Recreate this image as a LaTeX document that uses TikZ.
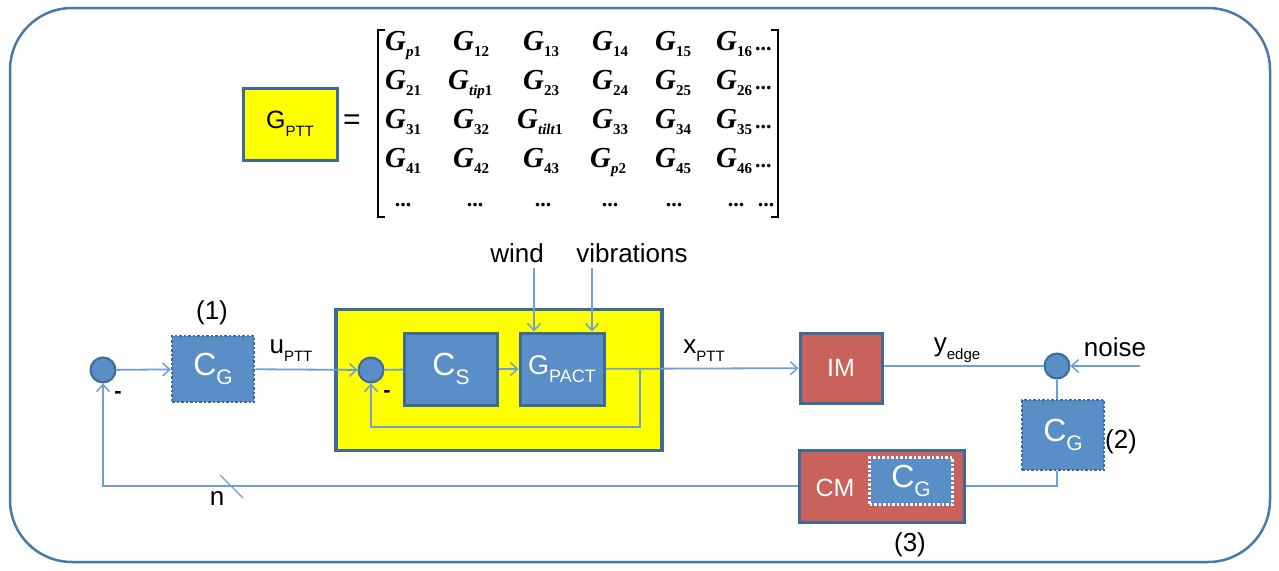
\documentclass[tikz,border=0pt]{standalone}
\usepackage{fontspec}
\setmainfont{Liberation Sans}
\newfontfamily\tnr{Liberation Serif}
\usetikzlibrary{arrows.meta,calc}
\definecolor{lineblue}{HTML}{6F9FD6}
\definecolor{boxblue}{HTML}{5A8EC6}
\definecolor{edgeblue}{HTML}{3E6A9A}
\definecolor{boxred}{HTML}{C8625A}
\definecolor{outerblue}{HTML}{4C78A8}
\definecolor{yel}{HTML}{FFFF00}
\newcommand\lsub[2]{\raisebox{-0.3em}{\fontsize{#1}{#1}\selectfont #2}}
\newcommand\MG[1]{{\tnr\bfseries\itshape G}\raisebox{-6pt}{\tnr\bfseries\upshape\fontsize{15}{15}\selectfont #1}}
\newcommand\mdots{{\tnr\bfseries\upshape\fontsize{22}{22}\selectfont ...}}
\tikzset{
  conn/.style={draw=lineblue, line width=1.8pt},
  arr/.style={-{Straight Barb[length=7pt,width=13pt,line width=1.5pt]}},
  bluebox/.style={rectangle, fill=boxblue, draw=edgeblue, line width=3pt, text=white, inner sep=0pt},
  dotbox/.style={rectangle, fill=boxblue, draw=edgeblue, line width=2.5pt, dash pattern=on 2.5pt off 2pt, text=white, inner sep=0pt},
  redbox/.style={rectangle, fill=boxred, draw=edgeblue, line width=3pt, text=white, inner sep=0pt},
  sumc/.style={circle, fill=boxblue, draw=edgeblue, line width=2pt, minimum size=25pt, inner sep=0pt},
  lbl/.style={font=\fontsize{26}{28}\selectfont, inner sep=0pt},
  mentry/.style={anchor=base west, inner sep=0pt, font=\tnr\bfseries\itshape\fontsize{29}{29}\selectfont},
  mdot/.style={anchor=base, inner sep=0pt},
}
\begin{document}
\begin{tikzpicture}[x=1pt,y=-1pt]
\useasboundingbox (0,0) rectangle (1279,570);
\draw[outerblue, line width=2.5pt, rounded corners=62pt] (10,8) rectangle (1270,562);

% G_PTT = matrix
\node[rectangle, fill=yel, draw=edgeblue, line width=3pt, minimum width=94pt, minimum height=72pt, inner sep=0pt] (gptt) at (290,124)
  {\fontsize{25}{25}\selectfont G\lsub{15}{PTT}};
\node[lbl, font=\fontsize{30}{30}\selectfont] (eq) at (352,122) {=};
\draw[black, line width=1.8pt] (385,30) -- (378,30) -- (378,217) -- (385,217);
\draw[black, line width=1.8pt] (771,30) -- (778,30) -- (778,217) -- (771,217);
% row 1
\node[mentry] (m11) at (385,50) {\MG{\textit{p}1}};
\node[mentry] (m12) at (453,50) {\MG{12}};
\node[mentry] (m13) at (523,50) {\MG{13}};
\node[mentry] (m14) at (592,50) {\MG{14}};
\node[mentry] (m15) at (655,50) {\MG{15}};
\node[mentry] (m16) at (716,50) {\MG{16}};
\node[mentry] (m17) at (755,50) {\mdots};
% row 2
\node[mentry] (m21) at (385,89) {\MG{21}};
\node[mentry] (m22) at (448,89) {\MG{\textit{tip}1}};
\node[mentry] (m23) at (523,89) {\MG{23}};
\node[mentry] (m24) at (592,89) {\MG{24}};
\node[mentry] (m25) at (655,89) {\MG{25}};
\node[mentry] (m26) at (716,89) {\MG{26}};
\node[mentry] (m27) at (755,89) {\mdots};
% row 3
\node[mentry] (m31) at (385,128) {\MG{31}};
\node[mentry] (m32) at (453,128) {\MG{32}};
\node[mentry] (m33) at (517,128) {\MG{\textit{tilt}1}};
\node[mentry] (m34) at (592,128) {\MG{33}};
\node[mentry] (m35) at (655,128) {\MG{34}};
\node[mentry] (m36) at (716,128) {\MG{35}};
\node[mentry] (m37) at (755,128) {\mdots};
% row 4
\node[mentry] (m41) at (385,167) {\MG{41}};
\node[mentry] (m42) at (453,167) {\MG{42}};
\node[mentry] (m43) at (523,167) {\MG{43}};
\node[mentry] (m44) at (590,167) {\MG{\textit{p}2}};
\node[mentry] (m45) at (655,167) {\MG{45}};
\node[mentry] (m46) at (716,167) {\MG{46}};
\node[mentry] (m47) at (755,167) {\mdots};
% row 5
\node[mdot] (m51) at (403,206) {\mdots};
\node[mdot] (m52) at (475,206) {\mdots};
\node[mdot] (m53) at (543,206) {\mdots};
\node[mdot] (m54) at (610,206) {\mdots};
\node[mdot] (m55) at (674,206) {\mdots};
\node[mdot] (m56) at (736,206) {\mdots};
\node[mdot] (m57) at (766,206) {\mdots};

% yellow subsystem
\node[rectangle, fill=yel, draw=edgeblue, line width=3.5pt, minimum width=326pt, minimum height=141pt, inner sep=0pt] (sys) at (499,380) {};
\node[sumc] (sum2) at (371,370) {};
\node[bluebox, minimum width=93pt, minimum height=72pt] (cs) at (451,369)
  {\fontsize{32}{32}\selectfont C\lsub{21}{S}};
\node[bluebox, minimum width=84pt, minimum height=72pt] (gpact) at (562,369)
  {\fontsize{27}{27}\selectfont G\lsub{18}{PACT}};
\node[lbl, font=\bfseries\fontsize{22}{22}\selectfont] (minus2) at (387,394) {-};

% left part
\node[sumc] (sum1) at (103,370) {};
\node[lbl, font=\bfseries\fontsize{22}{22}\selectfont] (minus1) at (118,395) {-};
\node[dotbox, minimum width=82pt, minimum height=66pt] (cg1) at (213,369)
  {\fontsize{32}{32}\selectfont C\lsub{21}{G}};
\node[lbl] (l1) at (212,313) {(1)};
\node[lbl] (upt) at (291,351) {u\lsub{15}{PTT}};

% labels above
\node[lbl] (wind) at (517,253) {wind};
\node[lbl] (vib) at (632,253) {vibrations};
\coordinate (w0) at (534,268);
\coordinate (v0) at (592,268);

% right part
\node[lbl] (xpt) at (704,351) {x\lsub{15}{PTT}};
\node[redbox, minimum width=82pt, minimum height=70pt] (im) at (841,368)
  {\fontsize{25}{25}\selectfont IM};
\node[lbl] (yedge) at (957,350) {y\lsub{15}{edge}};
\node[sumc] (sum3) at (1057,366) {};
\node[lbl] (noise) at (1115,347) {noise};
\coordinate (nz) at (1140,366);
\node[dotbox, minimum width=82pt, minimum height=70pt] (cg2) at (1063,435)
  {\fontsize{32}{32}\selectfont C\lsub{21}{G}};
\node[lbl] (l2) at (1121,442) {(2)};
\node[redbox, minimum width=165pt, minimum height=72pt] (cm) at (882,486) {};
\node[inner sep=0pt, text=white, font=\fontsize{25}{25}\selectfont] (cmt) at (835,488) {CM};
\node[dotbox, draw=white, minimum width=83pt, minimum height=47pt] (cg3) at (911,481)
  {\fontsize{32}{32}\selectfont C\lsub{21}{G}};
\node[lbl] (l3) at (910,545) {(3)};
\node[lbl] (nlab) at (217,498) {n};

% connectors
\draw[conn,arr] (sum1) -- (cg1);
\draw[conn,arr] (cg1) -- (sum2);
\draw[conn] (sum2) -- (cs);
\draw[conn,arr] (cs) -- (gpact);
\draw[conn,arr] (gpact) -- (im);
\coordinate (fb) at (640,370);
\draw[conn,arr] (fb) -- (fb |- 0,427) -| (sum2.south);
\draw[conn,arr] (w0) -- (w0 |- gpact.north);
\draw[conn,arr] (v0) -- (v0 |- gpact.north);
\draw[conn] (im.east |- sum3) -- (sum3);
\draw[conn,arr] (nz) -- (sum3);
\draw[conn] (sum3 |- sum3.south) -- (sum3 |- cg2.north);
\draw[conn] (sum3 |- cg2.south) |- (cm.east);
\draw[conn,arr] (cm.west) -| (sum1.south);
\draw[lineblue, line width=1.3pt] (220,475) -- (243,498);
\end{tikzpicture}
\end{document}
